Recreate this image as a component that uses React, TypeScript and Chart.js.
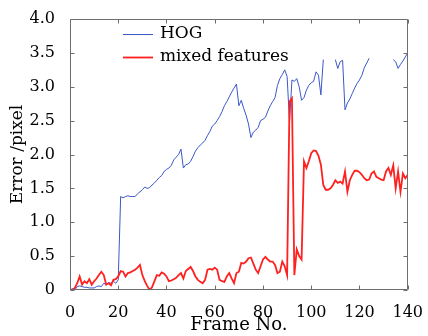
import React, { useEffect, useRef } from 'react';
import { Chart, registerables } from 'chart.js';

Chart.register(...registerables);

// Frame numbers (x categories)
const frames: number[] = Array.from({ length: 141 }, (_, i) => i);

// HOG tracking error (null = no output / gap)
const hogError: (number | null)[] = [
  0.0, 0.02, 0.0, 0.05, 0.06, 0.05, 0.04, 0.04, 0.03, 0.03,
  0.03, 0.05, 0.06, 0.05, 0.1, 0.08, 0.11, 0.1, 0.13, 0.1,
  0.15, 1.38, 1.36, 1.38, 1.39, 1.38, 1.38, 1.38, 1.42, 1.45,
  1.48, 1.52, 1.5, 1.51, 1.55, 1.58, 1.62, 1.66, 1.69, 1.75,
  1.78, 1.8, 1.84, 1.92, 1.96, 2.0, 2.08, 1.8, 1.85, 1.86,
  1.9, 1.97, 2.05, 2.1, 2.14, 2.17, 2.21, 2.28, 2.34, 2.42,
  2.45, 2.5, 2.56, 2.63, 2.72, 2.78, 2.85, 2.92, 2.98, 3.04,
  2.72, 2.8, 2.68, 2.58, 2.45, 2.25, 2.33, 2.36, 2.4, 2.5,
  2.52, 2.55, 2.64, 2.72, 2.78, 2.84, 3.02, 3.12, 3.18, 3.25,
  3.15, 2.48, 3.1, 3.08, 3.12, 3.0, 2.8, 2.84, 2.95, 3.02,
  3.06, 3.08, 3.22, 3.17, 2.88, 3.4, null, null, null, null,
  3.4, 3.27, 3.37, 3.39, 2.66, 2.76, 2.82, 2.9, 2.98, 3.05,
  3.1, 3.17, 3.28, 3.35, 3.42, null, null, null, null, null,
  null, null, null, null, 3.4, 3.37, 3.27, 3.33, 3.38, 3.44,
  3.5,
];

// Mixed features tracking error
const mixedError: number[] = [
  0.0, 0.0, 0.03, 0.1, 0.2, 0.08, 0.13, 0.1, 0.16, 0.08,
  0.13, 0.17, 0.22, 0.27, 0.22, 0.08, 0.1, 0.07, 0.15, 0.16,
  0.2, 0.28, 0.27, 0.2, 0.25, 0.26, 0.28, 0.3, 0.33, 0.37,
  0.22, 0.13, 0.06, 0.0, 0.04, 0.13, 0.22, 0.21, 0.26, 0.24,
  0.2, 0.13, 0.14, 0.16, 0.18, 0.22, 0.25, 0.17, 0.28, 0.31,
  0.34, 0.28, 0.2, 0.15, 0.12, 0.1, 0.15, 0.3, 0.31, 0.3,
  0.33, 0.3, 0.15, 0.13, 0.12, 0.2, 0.25, 0.17, 0.1, 0.25,
  0.27, 0.4, 0.39, 0.42, 0.47, 0.48, 0.39, 0.3, 0.25, 0.35,
  0.45, 0.49, 0.45, 0.42, 0.42, 0.37, 0.25, 0.27, 0.42, 0.35,
  0.22, 2.78, 2.83, 0.22, 0.6, 0.5, 0.45, 1.9, 1.8, 1.9,
  2.02, 2.06, 2.05, 1.98, 1.85, 1.55, 1.48, 1.48, 1.5, 1.55,
  1.62, 1.58, 1.6, 1.57, 1.75, 1.45, 1.62, 1.7, 1.76, 1.76,
  1.74, 1.7, 1.65, 1.62, 1.63, 1.72, 1.75, 1.67, 1.65, 1.63,
  1.62, 1.75, 1.8, 1.7, 1.84, 1.5, 1.75, 1.45, 1.72, 1.65,
  1.7,
];

const xTickValues: number[] = [0, 20, 40, 60, 80, 100, 120, 140];
const yTickLabels: string[] = ['0', '0.5', '1.0', '1.5', '2.0', '2.5', '3.0', '3.5', '4.0'];
const seriesNames: string[] = ['HOG', 'mixed features'];

const HOG_COLOR = 'rgb(58, 88, 200)';
const MIXED_COLOR = 'rgb(255, 32, 32)';
const AXIS_COLOR = '#6e6e6e';
const FONT = '"DejaVu Serif", serif';

const framePlugin = {
  id: 'frameAndLegend',
  afterDatasetsDraw(chart: any) {
    const { ctx, chartArea: a, scales } = chart;
    ctx.save();
    ctx.strokeStyle = AXIS_COLOR;
    ctx.lineWidth = 1;
    const L = Math.round(a.left) + 0.5;
    const R = Math.round(a.right) - 0.5;
    const T = Math.round(a.top) + 0.5;
    const B = Math.round(a.bottom) - 0.5;
    ctx.beginPath();
    ctx.rect(L, T, R - L, B - T);
    const tl = 4;
    xTickValues.forEach((v) => {
      const x = Math.round(scales.x.getPixelForValue(v)) + 0.5;
      ctx.moveTo(x, B);
      ctx.lineTo(x, B - tl);
      ctx.moveTo(x, T);
      ctx.lineTo(x, T + tl);
    });
    yTickLabels.forEach((_, i) => {
      const y = Math.round(scales.y.getPixelForValue(i * 0.5)) + 0.5;
      ctx.moveTo(L, y);
      ctx.lineTo(L + tl, y);
      ctx.moveTo(R, y);
      ctx.lineTo(R - tl, y);
    });
    ctx.stroke();

    // legend inside plot area
    const colors = [HOG_COLOR, MIXED_COLOR];
    const widths = [1, 1.8];
    const rows = [34, 57];
    ctx.font = `17px ${FONT}`;
    ctx.textBaseline = 'middle';
    ctx.textAlign = 'left';
    seriesNames.forEach((name, i) => {
      ctx.beginPath();
      ctx.strokeStyle = colors[i];
      ctx.lineWidth = widths[i];
      ctx.moveTo(123, rows[i] + 0.5);
      ctx.lineTo(153, rows[i] + 0.5);
      ctx.stroke();
      ctx.fillStyle = '#000';
      ctx.fillText(name, 160, rows[i]);
    });
    ctx.restore();
  },
};

export default function App() {
  const canvasRef = useRef<HTMLCanvasElement | null>(null);

  useEffect(() => {
    if (!canvasRef.current) return;
    const chart = new Chart(canvasRef.current, {
      type: 'line',
      data: {
        datasets: [
          {
            label: seriesNames[1],
            data: frames.map((f, i) => ({ x: f, y: mixedError[i] })),
            borderColor: MIXED_COLOR,
            borderWidth: 1.8,
            pointRadius: 0,
            tension: 0,
            fill: false,
          },
          {
            label: seriesNames[0],
            data: frames.map((f, i) => ({ x: f, y: hogError[i] })),
            borderColor: HOG_COLOR,
            borderWidth: 1,
            pointRadius: 0,
            tension: 0,
            fill: false,
            spanGaps: false,
          },
        ],
      },
      options: {
        animation: false,
        responsive: false,
        maintainAspectRatio: false,
        devicePixelRatio: 1,
        layout: { padding: { top: 19, right: 12, left: 0, bottom: 0 } },
        plugins: {
          legend: { display: false },
          tooltip: { enabled: false },
        },
        scales: {
          x: {
            type: 'linear',
            min: 0,
            max: 140,
            grid: { display: false },
            border: { display: false },
            ticks: {
              stepSize: 20,
              color: '#000',
              font: { family: FONT, size: 16 },
              padding: 5,
              maxRotation: 0,
              callback: (v: any) => (xTickValues.includes(Number(v)) ? String(v) : ''),
            },
            title: {
              display: true,
              text: 'Frame No.',
              color: '#000',
              font: { family: FONT, size: 18 },
              padding: { top: 0, bottom: 0 },
            },
            afterFit: (s: any) => {
              s.height = 46;
            },
          },
          y: {
            type: 'linear',
            min: 0,
            max: 4,
            grid: { display: false },
            border: { display: false },
            ticks: {
              stepSize: 0.5,
              color: '#000',
              font: { family: FONT, size: 16 },
              padding: 7,
              callback: (_v: any, i: number) => yTickLabels[i] ?? '',
            },
            title: {
              display: true,
              text: 'Error /pixel',
              color: '#000',
              font: { family: FONT, size: 17 },
              padding: { top: 7, bottom: 0 },
            },
            afterFit: (s: any) => {
              s.width = 70;
            },
          },
        },
      },
      plugins: [framePlugin],
    });
    return () => chart.destroy();
  }, []);

  return (
    <div style={{ position: 'fixed', left: 0, top: 0, width: 428, height: 336, background: '#fff' }}>
      <canvas ref={canvasRef} width={428} height={336} style={{ display: 'block' }} />
    </div>
  );
}
